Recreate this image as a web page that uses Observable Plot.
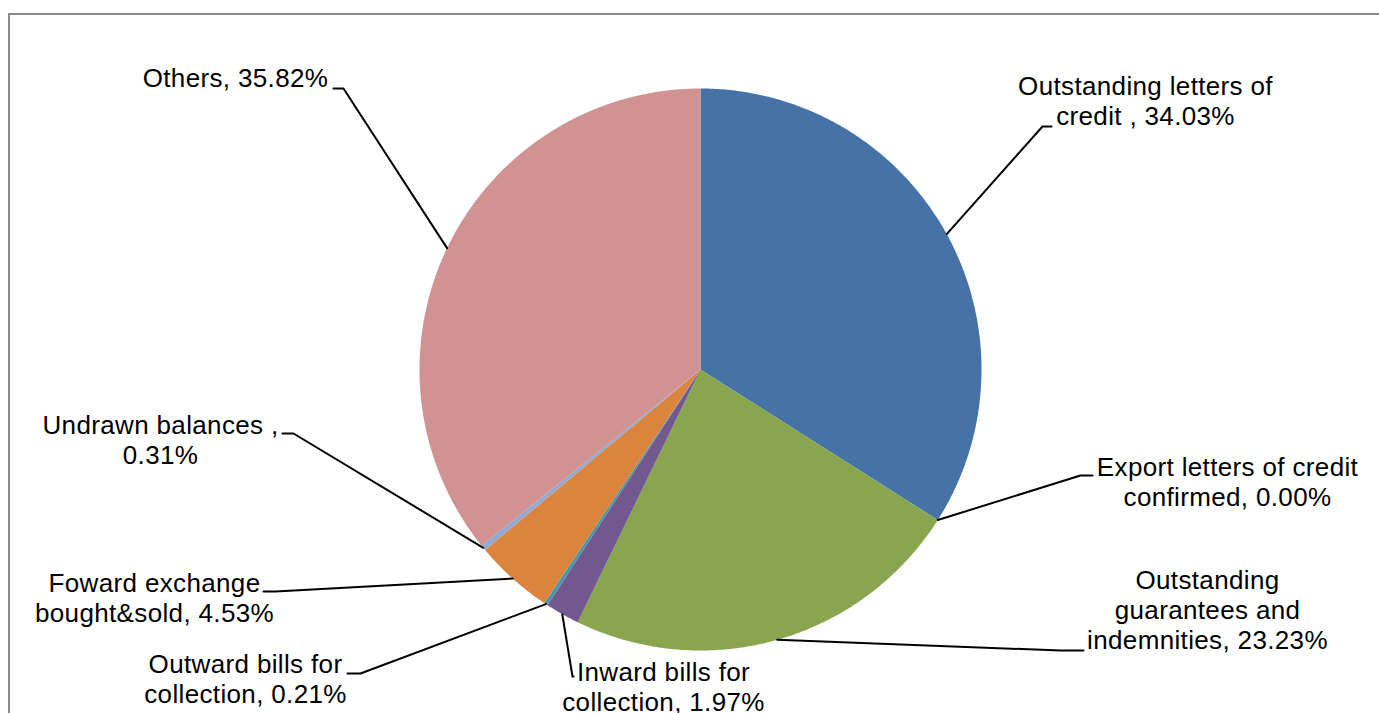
<!DOCTYPE html>
<html><head><meta charset="utf-8">
<script src="https://cdn.jsdelivr.net/npm/d3@7"></script>
<script src="https://cdn.jsdelivr.net/npm/@observablehq/plot@0.6"></script>
<style>
html,body{margin:0;padding:0;background:#fff;overflow:hidden}
#wrap{position:relative;width:1379px;height:713px;overflow:hidden}
#border{position:absolute;left:8px;top:13px;width:1400px;height:800px;border:2px solid #8a8a8a;box-sizing:border-box;pointer-events:none}
#wrap svg{position:absolute;left:0;top:0}
#wrap svg text{letter-spacing:0.35px}
</style></head><body><div id="wrap"><div id="border"></div></div>
<script>
const categories = ["Outstanding letters of credit", "Export letters of credit confirmed", "Outstanding guarantees and indemnities", "Inward bills for collection", "Outward bills for collection", "Foward exchange bought&sold", "Undrawn balances", "Others"];
const shares = [34.03, 0.00, 23.23, 1.97, 0.21, 4.53, 0.31, 35.82];
const labelTexts = ["Outstanding letters of\ncredit , 34.03%", "Export letters of credit\nconfirmed, 0.00%", "Outstanding\nguarantees and\nindemnities, 23.23%", "Inward bills for\ncollection, 1.97%", "Outward bills for\ncollection, 0.21%", "Foward exchange\nbought&sold, 4.53%", "Undrawn balances ,\n0.31%", "Others, 35.82%"];
const colors = ["#4572A7", "#AA4643", "#89A54E", "#71588F", "#4198AF", "#DB843D", "#93A9CF", "#D19392"];

// layout (pixels): pie centre/radius and label placements
const W = 1379, H = 713, CX = 700, CY = 369, R = 281;
const labelLayout = [
  {tx: 1145, ty: 100, elbow: [1042, 126], end: [1051, 126]},
  {tx: 1227, ty: 481, elbow: [1080, 475], end: [1092, 475]},
  {tx: 1207, ty: 609, elbow: [1060, 650], end: [1083, 650]},
  {tx: 663, ty: 686, elbow: [572, 676], end: [573, 676]},
  {tx: 245, ty: 678, elbow: [360, 673], end: [347, 673]},
  {tx: 154, ty: 597, elbow: [275, 591], end: [263, 591]},
  {tx: 160, ty: 439, elbow: [293, 433], end: [282, 433]},
  {tx: 235, ty: 77, elbow: [343, 88], end: [333, 88]}
];
const px = (p) => ({x: p[0] - CX, y: CY - p[1]});

const total = d3.sum(shares);
let acc = 0;
const slicePts = [], leaderPts = [], labels = [];
categories.forEach((name, i) => {
  const a0 = acc / total * 2 * Math.PI;
  acc += shares[i];
  const a1 = acc / total * 2 * Math.PI;
  slicePts.push({name, x: 0, y: 0});
  const n = Math.max(2, Math.ceil((a1 - a0) / (Math.PI / 360)));
  for (let k = 0; k <= n; k++) {
    const a = a0 + (a1 - a0) * k / n;
    slicePts.push({name, x: R * Math.sin(a), y: R * Math.cos(a)});
  }
  slicePts.push({name, x: 0, y: 0});
  const am = (a0 + a1) / 2;
  const L = labelLayout[i];
  leaderPts.push({name, x: R * Math.sin(am), y: R * Math.cos(am)});
  leaderPts.push({name, ...px(L.elbow)});
  leaderPts.push({name, ...px(L.end)});
  labels.push({text: labelTexts[i], ...px([L.tx, L.ty])});
});

const chart = Plot.plot({
  width: W, height: H, margin: 0,
  style: {background: "transparent"},
  x: {domain: [-CX, W - CX], axis: null},
  y: {domain: [CY - H, CY], axis: null},
  color: {domain: categories, range: colors},
  marks: [
    Plot.line(slicePts, {x: "x", y: "y", z: "name", fill: "name", stroke: "none", curve: "linear"}),
    Plot.line(leaderPts, {x: "x", y: "y", z: "name", stroke: "#000", strokeWidth: 2, curve: "linear"}),
    Plot.text(labels, {x: "x", y: "y", text: "text", fontSize: 26, lineHeight: 1.154, fontFamily: "Liberation Sans, Arial, sans-serif", fill: "#000", textAnchor: "middle"})
  ]
});
document.getElementById("wrap").appendChild(chart);
</script></body></html>
